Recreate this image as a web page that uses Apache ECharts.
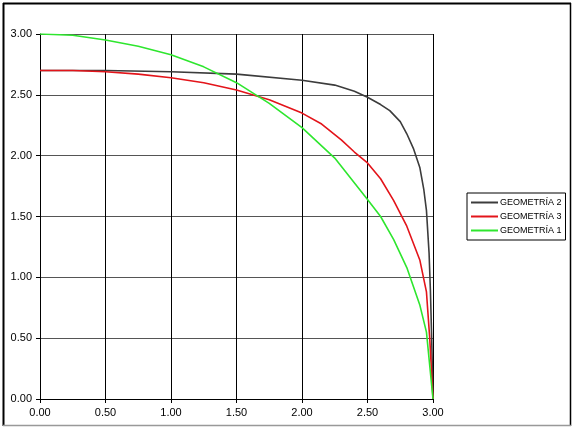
<!DOCTYPE html>
<html><head><meta charset="utf-8">
<script src="https://cdn.jsdelivr.net/npm/echarts@6/dist/echarts.min.js"></script>
<style>html,body{margin:0;padding:0;background:#fff}#c{width:574px;height:428px}</style>
</head><body><div id="c"></div>
<script>
const xTicks = [0, 0.5, 1.0, 1.5, 2.0, 2.5, 3.0];
const yTicks = [0, 0.5, 1.0, 1.5, 2.0, 2.5, 3.0];

const geo2X = [0, 0.5, 1.0, 1.5, 2.0, 2.25, 2.4, 2.5, 2.6, 2.67, 2.75, 2.8, 2.85, 2.9, 2.93, 2.95, 2.97, 2.98, 2.99, 3.0];
const geo2Y = [2.70, 2.70, 2.69, 2.67, 2.62, 2.58, 2.53, 2.48, 2.42, 2.37, 2.28, 2.18, 2.06, 1.90, 1.72, 1.55, 1.20, 0.90, 0.50, 0.00];

const geo3X = [0, 0.25, 0.5, 0.75, 1.0, 1.25, 1.5, 1.75, 2.0, 2.15, 2.3, 2.4, 2.5, 2.6, 2.7, 2.8, 2.9, 2.95, 2.975, 3.0];
const geo3Y = [2.70, 2.70, 2.69, 2.67, 2.64, 2.60, 2.54, 2.46, 2.35, 2.26, 2.13, 2.03, 1.94, 1.81, 1.63, 1.42, 1.14, 0.88, 0.50, 0.00];

const geo1X = [0, 0.25, 0.5, 0.75, 1.0, 1.25, 1.5, 1.75, 2.0, 2.25, 2.5, 2.6, 2.7, 2.8, 2.9, 2.95, 3.0];
const geo1Y = [3.00, 2.99, 2.95, 2.90, 2.83, 2.73, 2.60, 2.43, 2.23, 1.98, 1.64, 1.50, 1.31, 1.08, 0.77, 0.55, 0.00];

const names = ['GEOMETRÍA 2', 'GEOMETRÍA 3', 'GEOMETRÍA 1'];
const colors = ['#3c3c3c', '#e3141a', '#2ee62e'];

function pairs(xs, ys) { return xs.map((x, i) => [x, ys[i]]); }

const chart = echarts.init(document.getElementById('c'), null, {renderer: 'canvas'});
const font = 'Liberation Sans, Arial, sans-serif';
chart.setOption({
  animation: false,
  backgroundColor: '#fff',
  grid: {left: 40, top: 34, right: 141, bottom: 29, containLabel: false},
  xAxis: {
    type: 'value', min: xTicks[0], max: xTicks[xTicks.length - 1], interval: 0.5,
    axisLine: {show: true, lineStyle: {color: '#000', width: 1}},
    axisTick: {show: true, inside: false, length: 4, lineStyle: {color: '#000'}},
    axisLabel: {color: '#000', fontSize: 11, fontFamily: font, margin: 8, formatter: v => v.toFixed(2)},
    splitLine: {show: true, lineStyle: {color: '#000', width: 1}}
  },
  yAxis: {
    type: 'value', min: yTicks[0], max: yTicks[yTicks.length - 1], interval: 0.5,
    axisLine: {show: true, lineStyle: {color: '#000', width: 1}},
    axisTick: {show: true, inside: false, length: 4, lineStyle: {color: '#000'}},
    axisLabel: {color: '#000', fontSize: 11, fontFamily: font, margin: 8, formatter: v => v.toFixed(2)},
    splitLine: {show: true, lineStyle: {color: '#555', width: 1}}
  },
  legend: {
    orient: 'vertical', left: 467, top: 193,
    data: names,
    icon: 'rect', itemWidth: 27, itemHeight: 2, itemGap: 5,
    borderColor: '#000', borderWidth: 1, padding: [5, 4, 5, 4],
    textStyle: {color: '#000', fontSize: 9, fontFamily: font, padding: [0, 0, 0, -3]}
  },
  series: [
    {name: names[0], type: 'line', data: pairs(geo2X, geo2Y), symbol: 'none', smooth: false,
     lineStyle: {color: colors[0], width: 1.6}, itemStyle: {color: colors[0]}, z: 2},
    {name: names[1], type: 'line', data: pairs(geo3X, geo3Y), symbol: 'none', smooth: false,
     lineStyle: {color: colors[1], width: 1.6}, itemStyle: {color: colors[1]}, z: 3},
    {name: names[2], type: 'line', data: pairs(geo1X, geo1Y), symbol: 'none', smooth: false,
     lineStyle: {color: colors[2], width: 1.6}, itemStyle: {color: colors[2]}, z: 4}
  ],
  graphic: [
    {type: 'line', shape: {x1: 3.5, y1: 3, x2: 3.5, y2: 426}, style: {stroke: '#000', lineWidth: 2}},
    {type: 'line', shape: {x1: 3, y1: 3.5, x2: 571, y2: 3.5}, style: {stroke: '#000', lineWidth: 2}},
    {type: 'line', shape: {x1: 570.5, y1: 3, x2: 570.5, y2: 426}, style: {stroke: '#000', lineWidth: 1.5}},
    {type: 'line', shape: {x1: 3, y1: 425.5, x2: 571, y2: 425.5}, style: {stroke: '#999', lineWidth: 1.5}}
  ]
});
</script></body></html>
